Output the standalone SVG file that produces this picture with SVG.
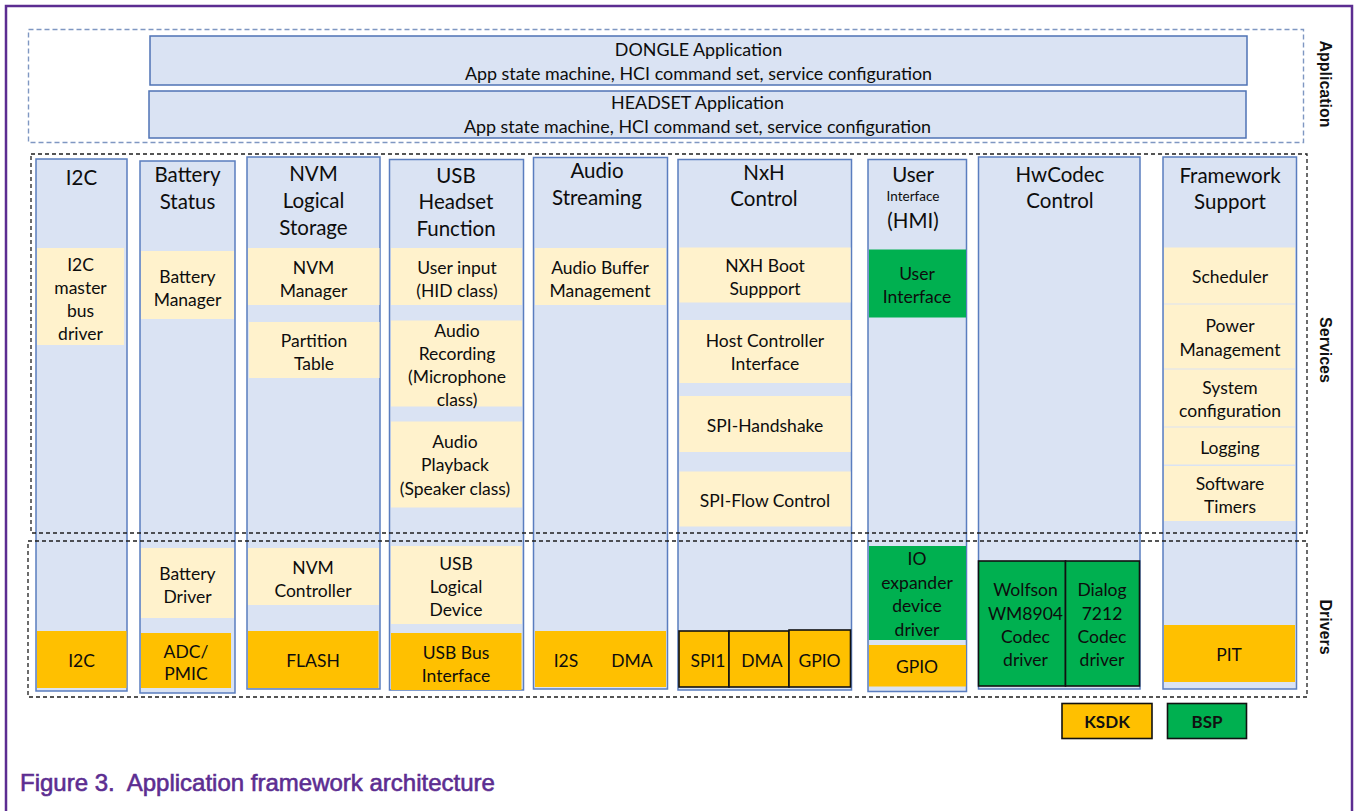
<svg xmlns="http://www.w3.org/2000/svg" width="1354" height="811" viewBox="0 0 1354 811">
  <style>
    .frame { fill: none; stroke: #5c2d91; stroke-width: 2.5; }
    .appzone { fill: none; stroke: #7f97c2; stroke-width: 1.4; stroke-dasharray: 5 3; }
    .zone { fill: none; stroke: #1e1e1e; stroke-width: 1.3; stroke-dasharray: 4 3; }
    .app { fill: #dae3f3; stroke: #4f73b5; stroke-width: 1.5; }
    .col { fill: #dae3f3; stroke: #5a7dbf; stroke-width: 1.5; }
    .svc { fill: #fff2cc; }
    .ksdk { fill: #ffc000; }
    .bsp { fill: #00b050; }
    .edge { stroke: #111; stroke-width: 1.6; }
    .t { font-family: Lato, "Open Sans", sans-serif; font-size: 17.5px; fill: #0d0d0d; text-anchor: middle; dominant-baseline: central; }
    .h { font-size: 20.5px; }
    .s { font-size: 13.5px; }
    .a { font-size: 17.9px; }
    .lg { font-weight: bold; font-size: 17px; fill: #111; }
    .side { font-family: "Liberation Sans", Arial, sans-serif; font-weight: bold; font-size: 16px; fill: #111; text-anchor: middle; dominant-baseline: central; }
    .cap { font-family: "Liberation Sans", Arial, sans-serif; font-size: 24px; fill: #5c2d91; stroke: #5c2d91; stroke-width: 0.6; }
  </style>

  <!-- page frame -->
  <rect class="frame" x="6" y="6" width="1346" height="830"/>

  <!-- application layer -->
  <g id="dongle-app">
    <rect class="app" x="150" y="36" width="1097" height="49"/>
    <text class="t a"><tspan x="698.5" y="49">DONGLE Application</tspan><tspan x="698.5" y="73">App state machine, HCI command set, service configuration</tspan></text>
  </g>
  <g id="headset-app">
    <rect class="app" x="149" y="91" width="1097" height="47"/>
    <text class="t a"><tspan x="697.5" y="102">HEADSET Application</tspan><tspan x="697.5" y="126">App state machine, HCI command set, service configuration</tspan></text>
  </g>

  <!-- I2C -->
  <g id="col-i2c">
    <rect class="col" x="36" y="159" width="91" height="532"/>
    <text class="t h" x="81.5" y="177">I2C</text>
    <rect class="svc" x="37" y="248" width="87" height="97"/>
    <text class="t"><tspan x="80.5" y="264">I2C</tspan><tspan x="80.5" y="287">master</tspan><tspan x="80.5" y="310">bus</tspan><tspan x="80.5" y="333">driver</tspan></text>
    <rect class="ksdk" x="37" y="631" width="89.5" height="57"/>
    <text class="t" x="81.5" y="660">I2C</text>
  </g>

  <!-- Battery Status -->
  <g id="col-battery">
    <rect class="col" x="140" y="161" width="95" height="532"/>
    <text class="t h"><tspan x="187.5" y="174">Battery</tspan><tspan x="187.5" y="201">Status</tspan></text>
    <rect class="svc" x="141" y="251" width="93" height="68"/>
    <text class="t"><tspan x="187.5" y="276">Battery</tspan><tspan x="187.5" y="298.5">Manager</tspan></text>
    <rect class="svc" x="141" y="548" width="93" height="70"/>
    <text class="t"><tspan x="187.5" y="573">Battery</tspan><tspan x="187.5" y="595.5">Driver</tspan></text>
    <rect class="ksdk" x="141" y="633" width="90" height="55"/>
    <text class="t"><tspan x="186" y="651">ADC/</tspan><tspan x="186" y="673">PMIC</tspan></text>
  </g>

  <!-- NVM Logical Storage -->
  <g id="col-nvm">
    <rect class="col" x="247" y="157" width="133" height="532"/>
    <text class="t h"><tspan x="313.5" y="173">NVM</tspan><tspan x="313.5" y="200">Logical</tspan><tspan x="313.5" y="226.5">Storage</tspan></text>
    <rect class="svc" x="248" y="248" width="131.5" height="57"/>
    <text class="t"><tspan x="313.5" y="266.5">NVM</tspan><tspan x="313.5" y="290">Manager</tspan></text>
    <rect class="svc" x="249" y="322" width="130.5" height="56"/>
    <text class="t"><tspan x="314" y="340">Partition</tspan><tspan x="314" y="362.5">Table</tspan></text>
    <rect class="svc" x="248" y="548" width="131" height="57"/>
    <text class="t"><tspan x="313" y="566.5">NVM</tspan><tspan x="313" y="590">Controller</tspan></text>
    <rect class="ksdk" x="248" y="631" width="130.5" height="57"/>
    <text class="t" x="313" y="660">FLASH</text>
  </g>

  <!-- USB Headset Function -->
  <g id="col-usb">
    <rect class="col" x="389.5" y="159.5" width="134" height="530.5"/>
    <text class="t h"><tspan x="456" y="174.5">USB</tspan><tspan x="456" y="201">Headset</tspan><tspan x="456" y="227.5">Function</tspan></text>
    <rect class="svc" x="391" y="248" width="131" height="57"/>
    <text class="t"><tspan x="457" y="266.5">User input</tspan><tspan x="457" y="290">(HID class)</tspan></text>
    <rect class="svc" x="391" y="320.5" width="131" height="86"/>
    <text class="t"><tspan x="457" y="329.5">Audio</tspan><tspan x="457" y="352.5">Recording</tspan><tspan x="457" y="376">(Microphone</tspan><tspan x="457" y="399">class)</tspan></text>
    <rect class="svc" x="391" y="421.5" width="131" height="86"/>
    <text class="t"><tspan x="455" y="441">Audio</tspan><tspan x="455" y="464">Playback</tspan><tspan x="455" y="487.5">(Speaker class)</tspan></text>
    <rect class="svc" x="391" y="546" width="131" height="78"/>
    <text class="t"><tspan x="456" y="562.5">USB</tspan><tspan x="456" y="586">Logical</tspan><tspan x="456" y="609">Device</tspan></text>
    <rect class="ksdk" x="391" y="633" width="130.5" height="57"/>
    <text class="t"><tspan x="456" y="651.5">USB Bus</tspan><tspan x="456" y="675">Interface</tspan></text>
  </g>

  <!-- Audio Streaming -->
  <g id="col-audio">
    <rect class="col" x="533.5" y="157.5" width="134" height="531.5"/>
    <text class="t h"><tspan x="597" y="170">Audio</tspan><tspan x="597" y="196.5">Streaming</tspan></text>
    <rect class="svc" x="535" y="248" width="131" height="57"/>
    <text class="t"><tspan x="600" y="266.5">Audio Buffer</tspan><tspan x="600" y="290">Management</tspan></text>
    <rect class="ksdk" x="535" y="631" width="131" height="56"/>
    <text class="t" x="566" y="660">I2S</text>
    <text class="t" x="632" y="660">DMA</text>
  </g>

  <!-- NxH Control -->
  <g id="col-nxh">
    <rect class="col" x="678" y="159.5" width="173.5" height="530.5"/>
    <text class="t h"><tspan x="764" y="171.5">NxH</tspan><tspan x="764" y="198">Control</tspan></text>
    <rect class="svc" x="679.5" y="247.5" width="171" height="55"/>
    <text class="t"><tspan x="765" y="264.5">NXH Boot</tspan><tspan x="765" y="287.5">Suppport</tspan></text>
    <rect class="svc" x="679.5" y="320" width="171" height="63"/>
    <text class="t"><tspan x="765" y="340">Host Controller</tspan><tspan x="765" y="362.5">Interface</tspan></text>
    <rect class="svc" x="679.5" y="396" width="171" height="56"/>
    <text class="t" x="765" y="425">SPI-Handshake</text>
    <rect class="svc" x="679.5" y="471.5" width="171" height="55"/>
    <text class="t" x="765" y="500">SPI-Flow Control</text>
    <rect class="ksdk edge" x="679" y="631" width="50" height="56"/>
    <rect class="ksdk edge" x="729" y="631" width="60" height="56"/>
    <rect class="ksdk edge" x="789" y="630" width="61.5" height="57"/>
    <text class="t" x="708" y="660">SPI1</text>
    <text class="t" x="762" y="660">DMA</text>
    <text class="t" x="819.5" y="660">GPIO</text>
  </g>

  <!-- User Interface (HMI) -->
  <g id="col-hmi">
    <rect class="col" x="868" y="159.5" width="98.5" height="532"/>
    <text class="t h" x="913" y="173.5">User</text>
    <text class="t s" x="913" y="196">Interface</text>
    <text class="t h" x="913" y="220">(HMI)</text>
    <rect class="bsp" x="869" y="249.5" width="97" height="68"/>
    <text class="t"><tspan x="917" y="272.5">User</tspan><tspan x="917" y="295.5">Interface</tspan></text>
    <rect class="bsp" x="869" y="546" width="97" height="94"/>
    <text class="t"><tspan x="917" y="558">IO</tspan><tspan x="917" y="581.5">expander</tspan><tspan x="917" y="605">device</tspan><tspan x="917" y="628.5">driver</tspan></text>
    <rect class="ksdk" x="869" y="645" width="97" height="41.5"/>
    <text class="t" x="917" y="666.5">GPIO</text>
  </g>

  <!-- HwCodec Control -->
  <g id="col-hwcodec">
    <rect class="col" x="978.5" y="157" width="161.5" height="532"/>
    <text class="t h"><tspan x="1060" y="173.5">HwCodec</tspan><tspan x="1060" y="200">Control</tspan></text>
    <rect class="bsp edge" x="978.5" y="561" width="87" height="125"/>
    <rect class="bsp edge" x="1065.5" y="561" width="74" height="125"/>
    <text class="t"><tspan x="1025.5" y="589">Wolfson</tspan><tspan x="1025.5" y="612.5">WM8904</tspan><tspan x="1025.5" y="635.5">Codec</tspan><tspan x="1025.5" y="659">driver</tspan></text>
    <text class="t"><tspan x="1102" y="589">Dialog</tspan><tspan x="1102" y="612.5">7212</tspan><tspan x="1102" y="635.5">Codec</tspan><tspan x="1102" y="659">driver</tspan></text>
  </g>

  <!-- Framework Support -->
  <g id="col-framework">
    <rect class="col" x="1163" y="157" width="133.5" height="532"/>
    <text class="t h"><tspan x="1230" y="174.5">Framework</tspan><tspan x="1230" y="201">Support</tspan></text>
    <rect class="svc" x="1164" y="247.5" width="131" height="56"/>
    <text class="t" x="1230" y="276">Scheduler</text>
    <rect class="svc" x="1164" y="304.5" width="131" height="64"/>
    <text class="t"><tspan x="1230" y="325">Power</tspan><tspan x="1230" y="348.5">Management</tspan></text>
    <rect class="svc" x="1164" y="369.5" width="131" height="57"/>
    <text class="t"><tspan x="1230" y="387">System</tspan><tspan x="1230" y="409.5">configuration</tspan></text>
    <rect class="svc" x="1164" y="427.5" width="131" height="37"/>
    <text class="t" x="1230" y="447.5">Logging</text>
    <rect class="svc" x="1164" y="466" width="131" height="55"/>
    <text class="t"><tspan x="1230" y="483">Software</tspan><tspan x="1230" y="506">Timers</tspan></text>
    <rect class="ksdk" x="1164" y="625" width="131" height="57"/>
    <text class="t" x="1229" y="654">PIT</text>
  </g>

  <!-- layer zones, drawn over the columns -->
  <g id="zones">
    <rect class="appzone" x="28.5" y="29.5" width="1275" height="113"/>
    <rect class="zone" x="31" y="154" width="1276" height="379"/>
    <rect class="zone" x="28" y="541" width="1279" height="156"/>
    <text class="side" transform="translate(1325,84) rotate(90)">Application</text>
    <text class="side" transform="translate(1325,350) rotate(90)">Services</text>
    <text class="side" transform="translate(1325,627) rotate(90)">Drivers</text>
  </g>

  <!-- legend -->
  <g id="legend-ksdk">
    <rect class="ksdk edge" x="1062" y="703.5" width="90" height="35"/>
    <text class="t lg" x="1107" y="721">KSDK</text>
  </g>
  <g id="legend-bsp">
    <rect class="bsp edge" x="1167.5" y="703.5" width="79" height="35"/>
    <text class="t lg" x="1207" y="721">BSP</text>
  </g>

  <!-- caption -->
  <text class="cap" x="20" y="791" xml:space="preserve">Figure 3.  Application framework architecture</text>
</svg>
